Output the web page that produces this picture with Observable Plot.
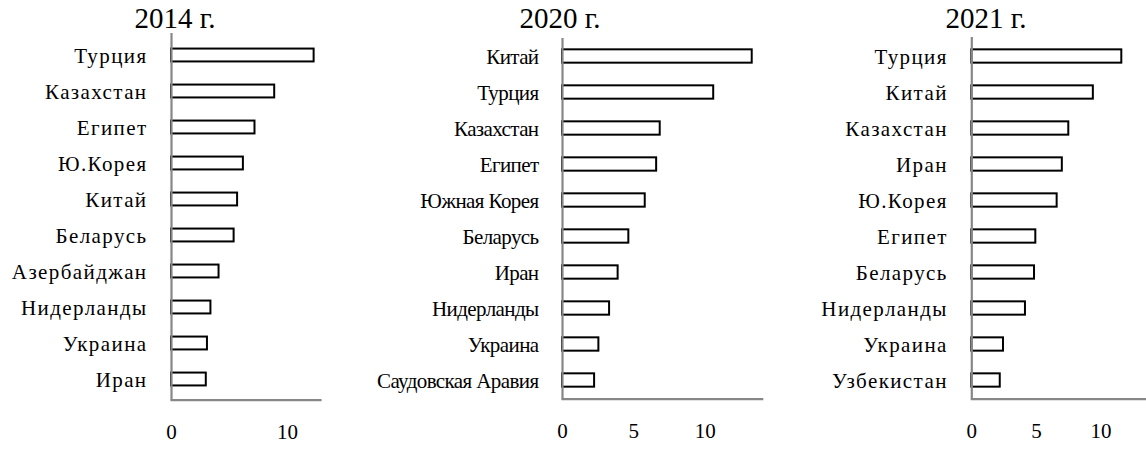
<!DOCTYPE html>
<html>
<head>
<meta charset="utf-8">
<script src="https://cdn.jsdelivr.net/npm/d3@7"></script>
<script src="https://cdn.jsdelivr.net/npm/@observablehq/plot@0.6"></script>
<style>
  html, body { margin: 0; padding: 0; background: #fff; }
  #wrap { position: relative; width: 1146px; height: 452px; overflow: hidden; font-family: "Liberation Serif", "Times New Roman", serif; }
  #wrap svg.panel { position: absolute; top: 0; overflow: visible; background: transparent; }
  .title { position: absolute; top: 4px; width: 200px; text-align: center; font-size: 29px; line-height: 29px; color: #000; white-space: nowrap; }
</style>
</head>
<body>
<div id="wrap"></div>
<script>
// ---- data ----
const years = ["2014 г.", "2020 г.", "2021 г."];

const countries2014 = ["Турция", "Казахстан", "Египет", "Ю.Корея", "Китай", "Беларусь", "Азербайджан", "Нидерланды", "Украина", "Иран"];
const values2014 = [12.3, 8.9, 7.2, 6.2, 5.7, 5.4, 4.1, 3.4, 3.1, 3.0];

const countries2020 = ["Китай", "Турция", "Казахстан", "Египет", "Южная Корея", "Беларусь", "Иран", "Нидерланды", "Украина", "Саудовская Аравия"];
const values2020 = [13.3, 10.6, 6.85, 6.6, 5.8, 4.65, 3.9, 3.3, 2.55, 2.25];

const countries2021 = ["Турция", "Китай", "Казахстан", "Иран", "Ю.Корея", "Египет", "Беларусь", "Нидерланды", "Украина", "Узбекистан"];
const values2021 = [11.6, 9.4, 7.5, 7.0, 6.6, 4.95, 4.85, 4.15, 2.45, 2.2];

const ticks2014 = [0, 10];
const ticks2020 = [0, 5, 10];
const ticks2021 = [0, 5, 10];

// ---- drawing ----
const wrap = document.getElementById("wrap");
const FONT = "Liberation Serif";

function panel(cfg) {
  const data = cfg.cats.map((c, i) => ({country: c, value: cfg.vals[i]}));
  const band = (cfg.yRange[1] - cfg.yRange[0]) / cfg.cats.length;
  const inset = (band - 13.5) / 2;
  const svg = Plot.plot({
    width: 382,
    height: 452,
    marginLeft: cfg.marginLeft,
    marginRight: cfg.marginRight,
    marginTop: cfg.axisTop,
    marginBottom: 452 - cfg.axisBottom,
    style: {fontFamily: FONT, fontSize: "21px"},
    x: {domain: [0, cfg.xMax], axis: null},
    y: {domain: cfg.cats, range: cfg.yRange, padding: 0, axis: null},
    marks: [
      Plot.barX(data, {x: "value", y: "country", fill: "white", stroke: "black", strokeWidth: 2, insetTop: inset, insetBottom: inset}),
      Plot.ruleX([0], {stroke: "#878787", strokeWidth: 2.2}),
      Plot.frame({anchor: "bottom", stroke: "#878787", strokeWidth: 2.2}),
      Plot.text(data, {x: 0, y: "country", text: "country", textAnchor: "end", dx: -24, dy: 1, fontFamily: FONT, fontSize: 21, fill: "#000"}),
      Plot.text(cfg.ticks, {x: d => d, text: d => String(d), frameAnchor: "bottom", dy: cfg.tickDy, fontFamily: FONT, fontSize: 21, fill: "#000"})
    ]
  });
  const names = new Set(cfg.cats);
  svg.querySelectorAll("text").forEach(t => {
    if (names.has(t.textContent)) t.setAttribute("letter-spacing", cfg.letterSpacing);
  });
  svg.classList.add("panel");
  svg.style.left = cfg.left + "px";
  wrap.appendChild(svg);

  const t = document.createElement("div");
  t.className = "title";
  t.textContent = cfg.title;
  t.style.left = (cfg.titleCenter - 100) + "px";
  wrap.appendChild(t);
}

panel({title: years[0], cats: countries2014, vals: values2014, ticks: ticks2014,
  left: 0, marginLeft: 171, marginRight: 62, xMax: 12.85,
  axisTop: 33, axisBottom: 399.6, yRange: [33.4, 399.6], tickDy: 39,
  letterSpacing: "1.4", titleCenter: 175});

panel({title: years[1], cats: countries2020, vals: values2020, ticks: ticks2020,
  left: 382, marginLeft: 180, marginRight: 2.3, xMax: 14.0,
  axisTop: 38, axisBottom: 398.6, yRange: [37.2, 398.9], tickDy: 39,
  letterSpacing: "-0.6", titleCenter: 560});

panel({title: years[2], cats: countries2021, vals: values2021, ticks: ticks2021,
  left: 764, marginLeft: 207.3, marginRight: 0, xMax: 13.51,
  axisTop: 37, axisBottom: 398.6, yRange: [37.2, 399.1], tickDy: 39,
  letterSpacing: "1.4", titleCenter: 986});
</script>
</body>
</html>
